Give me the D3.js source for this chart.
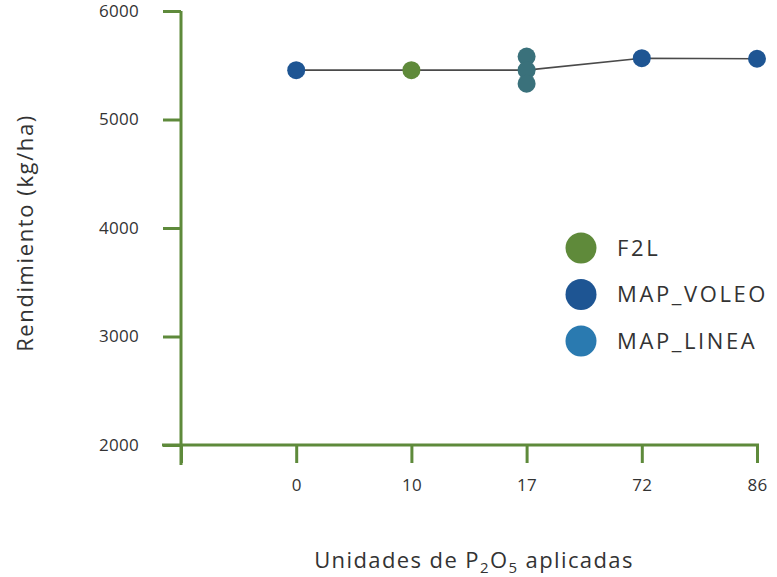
<!DOCTYPE html>
<html>
<head>
<meta charset="utf-8">
<script src="https://cdn.jsdelivr.net/npm/d3@7"></script>
<style>
  body { margin: 0; background: #fff; }
  text { font-family: "Open Sans", sans-serif; fill: #333; }
</style>
</head>
<body>
<svg id="chart" width="777" height="577"></svg>
<script>
// categories on the x axis (first slot is empty, like the original)
const categories = ["", "0", "10", "17", "72", "86"];
const yTicks = [2000, 3000, 4000, 5000, 6000];

// points: category, yield, series
const pointCat = ["0", "10", "17", "17", "17", "72", "86"];
const pointVal = [5455, 5455, 5580, 5455, 5330, 5565, 5560];
const pointSeries = ["MAP_VOLEO", "F2L", "MAP_17", "MAP_17", "MAP_17", "MAP_VOLEO", "MAP_VOLEO"];

// trend line through the means
const lineCat = ["0", "10", "17", "72", "86"];
const lineVal = [5455, 5455, 5455, 5565, 5560];

const legendNames = ["F2L", "MAP_VOLEO", "MAP_LINEA"];

const colors = { F2L: "#5f8a3a", MAP_VOLEO: "#1e5593", MAP_LINEA: "#2a7ab0", MAP_17: "#3a717b" };
const axisColor = "#5e8a3b";

const svg = d3.select("#chart");

const x = d3.scalePoint().domain(categories).range([181, 757]);
const y = d3.scaleLinear().domain([2000, 6000]).range([445, 11]);

// y axis
const gy = svg.append("g").attr("transform", "translate(181,0)")
  .call(d3.axisLeft(y).tickValues(yTicks).tickSize(18).tickPadding(24).tickFormat(d3.format("d")));
gy.select(".domain").remove();
gy.selectAll(".tick line").attr("stroke", axisColor).attr("stroke-width", 3);
gy.selectAll(".tick text").style("font-size", "17px").style("letter-spacing", "0.3px").attr("fill", "#333");
svg.append("line").attr("x1", 181).attr("x2", 181).attr("y1", 11).attr("y2", 465)
  .attr("stroke", axisColor).attr("stroke-width", 3);

// x axis
const gx = svg.append("g").attr("transform", "translate(0,445)")
  .call(d3.axisBottom(x).tickSize(18).tickPadding(16));
gx.select(".domain").remove();
gx.selectAll(".tick line").attr("stroke", axisColor).attr("stroke-width", 3);
gx.selectAll(".tick text").style("font-size", "17px").style("letter-spacing", "0.3px").attr("fill", "#333");
svg.append("line").attr("x1", 162).attr("x2", 759).attr("y1", 445).attr("y2", 445)
  .attr("stroke", axisColor).attr("stroke-width", 3);

// line
svg.append("path")
  .datum(lineCat.map((c, i) => [c, lineVal[i]]))
  .attr("fill", "none").attr("stroke", "#4a4a4a").attr("stroke-width", 1.6)
  .attr("d", d3.line().x(d => x(d[0])).y(d => y(d[1])));

// points
svg.append("g").selectAll("circle")
  .data(pointCat.map((c, i) => ({ c, v: pointVal[i], s: pointSeries[i] })))
  .join("circle")
  .attr("cx", d => x(d.c)).attr("cy", d => y(d.v)).attr("r", 9)
  .attr("fill", d => colors[d.s]);

// legend
const lg = svg.append("g").selectAll("g").data(legendNames).join("g")
  .attr("transform", (d, i) => `translate(581,${248 + i * 46.5})`);
lg.append("circle").attr("r", 15.5).attr("fill", d => colors[d]);
lg.append("text").attr("x", 36).attr("dy", "0.36em")
  .style("font-size", "22px").style("letter-spacing", "2.6px").text(d => d);

// axis titles
const xt = svg.append("text").attr("x", 474).attr("y", 568).attr("text-anchor", "middle")
  .style("font-size", "22px").style("letter-spacing", "1.4px");
xt.append("tspan").text("Unidades de P");
xt.append("tspan").attr("dy", 5).style("font-size", "15px").text("2");
xt.append("tspan").attr("dy", -5).text("O");
xt.append("tspan").attr("dy", 5).style("font-size", "15px").text("5");
xt.append("tspan").attr("dy", -5).text(" aplicadas");

svg.append("text").attr("transform", "translate(33,233) rotate(-90)")
  .attr("text-anchor", "middle").style("font-size", "22px").style("letter-spacing", "1.6px")
  .text("Rendimiento (kg/ha)");
</script>
</body>
</html>
